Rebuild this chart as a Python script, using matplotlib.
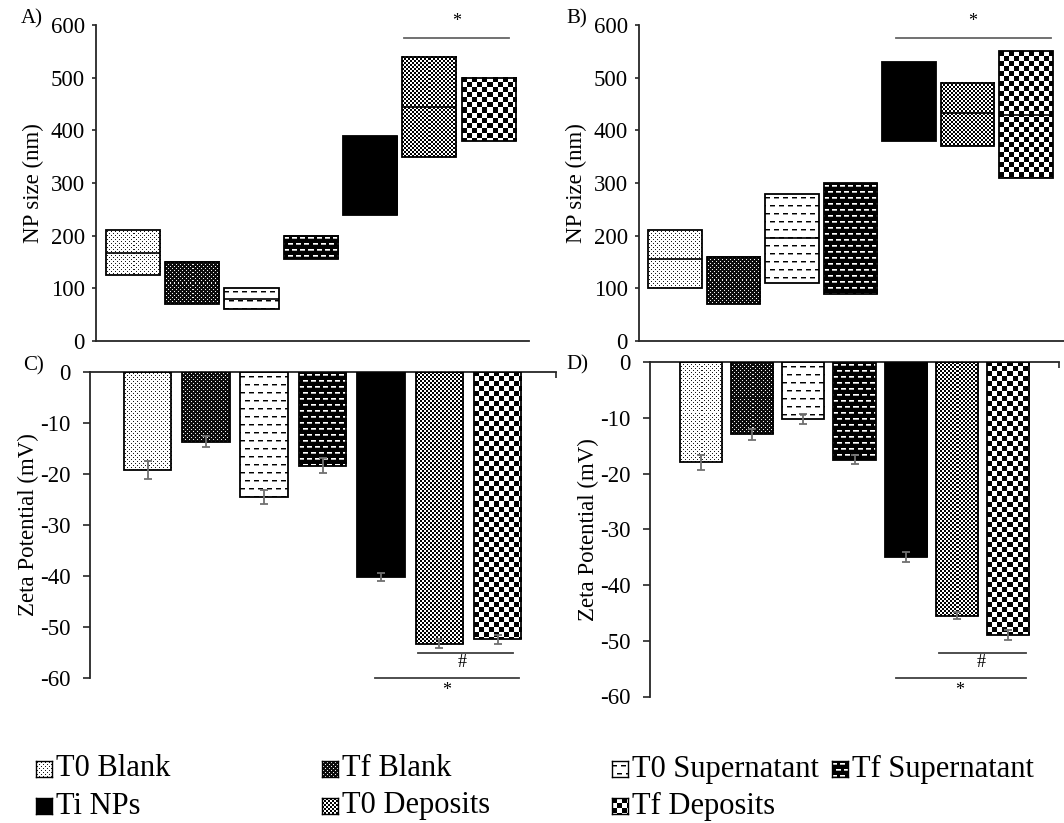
import numpy as np
import matplotlib
matplotlib.use("Agg")
import matplotlib.pyplot as plt

plt.rcParams['font.family'] = ['Liberation Serif', 'DejaVu Serif']
plt.rcParams['axes.unicode_minus'] = False

# ---------------- data ----------------
categories = ['T0 Blank', 'Tf Blank', 'T0 Supernatant', 'Tf Supernatant',
              'Ti NPs', 'T0 Deposits', 'Tf Deposits']
textures = ['dots_light', 'dots_dark', 'dash_light', 'dash_dark',
            'solid', 'check_fine', 'check_coarse']

size_A_min = [125, 70, 60, 155, 240, 350, 380]
size_A_max = [210, 150, 100, 200, 390, 540, 500]
size_A_med = [167, np.nan, 80, np.nan, np.nan, 445, np.nan]

size_B_min = [100, 70, 110, 90, 380, 370, 310]
size_B_max = [210, 160, 280, 300, 530, 490, 550]
size_B_med = [155, np.nan, 195, np.nan, np.nan, 432, 430]

zeta_C = [-19.2, -13.7, -24.5, -18.4, -40.2, -53.3, -52.4]
zeta_C_err = [1.8, 1.1, 1.3, 1.5, 0.7, 0.9, 0.9]

zeta_D = [-18.0, -13.0, -10.2, -17.5, -34.9, -45.5, -49.0]
zeta_D_err = [1.4, 1.0, 0.85, 0.8, 0.9, 0.6, 0.9]

size_ticks = [0, 100, 200, 300, 400, 500, 600]
zeta_ticks = [-60, -50, -40, -30, -20, -10, 0]

# ---------------- helpers ----------------
W, H = 1064, 823


def texture(kind, ny, nx):
    r, c = np.mgrid[0:ny, 0:nx]
    if kind == 'dots_light':
        ink = ((r % 4 == 1) & (c % 4 == 1)) | ((r % 4 == 3) & (c % 4 == 3))
        return np.where(ink, 0.1, 1.0)
    if kind == 'dots_dark':
        ink = ((r % 4 == 1) & (c % 4 == 1)) | ((r % 4 == 3) & (c % 4 == 3))
        return np.where(ink, 0.95, 0.05)
    if kind == 'dash_light':
        row = r % 8
        shift = ((r // 8) % 2) * 4
        on = ((c + shift) % 9) < 5
        out = np.ones((ny, nx))
        out[(row == 4) & on] = 0.0
        out[(row == 5) & on] = 0.55
        return out
    if kind == 'dash_dark':
        row = r % 6
        shift = ((r // 6) % 2) * 4
        on = ((c + shift) % 8) < 5
        out = np.zeros((ny, nx))
        out[(row == 2) & on] = 1.0
        out[(row == 3) & on] = 0.7
        return out
    if kind == 'check_fine':
        return ((r // 2 + c // 2) % 2).astype(float)
    if kind == 'check_coarse':
        return ((r // 5 + c // 5) % 2).astype(float)
    return np.zeros((ny, nx))


def fill_box(ax, x, lo, hi, w, kind):
    a = ax.transData.transform((x - w / 2, lo))
    b = ax.transData.transform((x + w / 2, hi))
    nx = max(1, int(round(abs(b[0] - a[0]))))
    ny = max(1, int(round(abs(b[1] - a[1]))))
    ax.imshow(texture(kind, ny, nx), extent=(x - w / 2, x + w / 2, lo, hi),
              origin='upper', cmap='gray', vmin=0, vmax=1,
              interpolation='nearest', aspect='auto', zorder=2)


def px_axes(x0, x1, ytop, ybot):
    return fig.add_axes([x0 / W, 1 - ybot / H, (x1 - x0) / W, (ybot - ytop) / H])


fig = plt.figure(figsize=(W / 100, H / 100), dpi=100)

TICK_FS = 16.5
LAB_FS = 16.5
spine_c = '#262626'


def style_size_axes(ax, xlim):
    ax.set_xlim(*xlim)
    ax.set_ylim(0, 600)
    ax.set_autoscale_on(False)
    for s in ['top', 'right']:
        ax.spines[s].set_visible(False)
    for s in ['left', 'bottom']:
        ax.spines[s].set_linewidth(1.3)
        ax.spines[s].set_color(spine_c)
    ax.set_xticks([])
    ax.set_yticks(size_ticks)
    ax.tick_params(axis='y', direction='out', length=3.1, width=1.2,
                   labelsize=TICK_FS, pad=5, color=spine_c)
    ax.set_ylabel('NP size (nm)', fontsize=LAB_FS, labelpad=5)


def style_zeta_axes(ax, xlim):
    ax.set_xlim(*xlim)
    ax.set_ylim(-60, 0)
    ax.set_autoscale_on(False)
    for s in ['bottom', 'right']:
        ax.spines[s].set_visible(False)
    for s in ['left', 'top']:
        ax.spines[s].set_linewidth(1.3)
        ax.spines[s].set_color(spine_c)
    ax.xaxis.tick_top()
    ax.set_xticks([xlim[1]])
    ax.set_xticklabels([])
    ax.tick_params(axis='x', direction='in', length=4, width=1.2, color=spine_c)
    ax.set_yticks(zeta_ticks)
    ax.tick_params(axis='y', direction='out', length=4.8, width=1.2,
                   labelsize=TICK_FS, pad=9, color=spine_c)
    ax.set_ylabel('Zeta Potential (mV)', fontsize=LAB_FS, labelpad=1)


def draw_size(ax, mins, maxs, meds, w):
    x = np.arange(len(categories))
    for i in x:
        fill_box(ax, i, mins[i], maxs[i], w, textures[i])
    ax.bar(x, np.array(maxs) - np.array(mins), bottom=mins, width=w, fill=False,
           edgecolor='black', linewidth=1.3, zorder=3)
    for i in x:
        if not np.isnan(meds[i]):
            ax.hlines(meds[i], i - w / 2, i + w / 2, color='black', lw=1.2, zorder=4)


def draw_zeta(ax, vals, errs, w):
    x = np.arange(len(categories))
    for i in x:
        fill_box(ax, i, vals[i], 0, w, textures[i])
    ax.bar(x, vals, width=w, fill=False, edgecolor='black', linewidth=1.3, zorder=3)
    ax.errorbar(x, vals, yerr=errs, fmt='none', ecolor='#707070', elinewidth=1.3,
                capsize=3, capthick=1.3, zorder=5)


def sig(ax, x0, x1, y, label, tx, ty, color='#666666'):
    ax.plot([x0, x1], [y, y], color=color, lw=1.3, clip_on=False, zorder=5)
    ax.text(tx, ty, label, ha='center', va='center', fontsize=13, clip_on=False)


# ---------------- Panel A ----------------
axA = px_axes(96, 529, 25, 341)
style_size_axes(axA, (-0.62, 6.68))
draw_size(axA, size_A_min, size_A_max, size_A_med, 0.915)
sig(axA, 4.57, 6.34, 575, '*', 5.46, 607)

# ---------------- Panel B ----------------
axB = px_axes(639, 1064, 25, 341)
style_size_axes(axB, (-0.62, 6.65))
draw_size(axB, size_B_min, size_B_max, size_B_med, 0.916)
sig(axB, 3.78, 6.43, 575, '*', 5.09, 607)

# ---------------- Panel C ----------------
axC = px_axes(90, 556, 372, 678)
style_zeta_axes(axC, (-0.986, 7.0))
draw_zeta(axC, zeta_C, zeta_C_err, 0.815)
sig(axC, 4.63, 6.27, -55.1, '#', 5.39, -56.9, color='#404040')
sig(axC, 3.90, 6.36, -60.0, '*', 5.12, -62.4, color='#404040')

# ---------------- Panel D ----------------
axD = px_axes(650, 1059, 362, 696.5)
style_zeta_axes(axD, (-0.99, 6.99))
draw_zeta(axD, zeta_D, zeta_D_err, 0.824)
sig(axD, 4.65, 6.34, -52.2, '#', 5.47, -53.9, color='#404040')
sig(axD, 3.81, 6.34, -56.7, '*', 5.06, -59.0, color='#404040')

# panel letters
for lab, (px, py) in zip(['A)', 'B)', 'C)', 'D)'],
                         [(32, 19), (577, 19), (34, 366), (577, 365)]):
    fig.text(px / W, 1 - py / H, lab, fontsize=15, ha='center', va='center')

# ---------------- legend (manual) ----------------
leg_pos = [(36, 769), (322, 769), (612, 769), (832, 769),
           (36, 806), (322, 806), (612, 806)]
SW = 16
for i, (lx, ly) in enumerate(leg_pos):
    sax = fig.add_axes([lx / W, 1 - (ly + SW / 2) / H, SW / W, SW / H])
    sax.imshow(texture(textures[i], SW, SW), cmap='gray', vmin=0, vmax=1,
               interpolation='nearest', aspect='auto')
    sax.set_xticks([])
    sax.set_yticks([])
    for s in sax.spines.values():
        s.set_linewidth(1.0)
        s.set_color('black')
    fig.text((lx + SW + 4) / W, 1 - ly / H, categories[i], fontsize=22,
             ha='left', va='center')

fig.savefig('out.png', dpi=100)
